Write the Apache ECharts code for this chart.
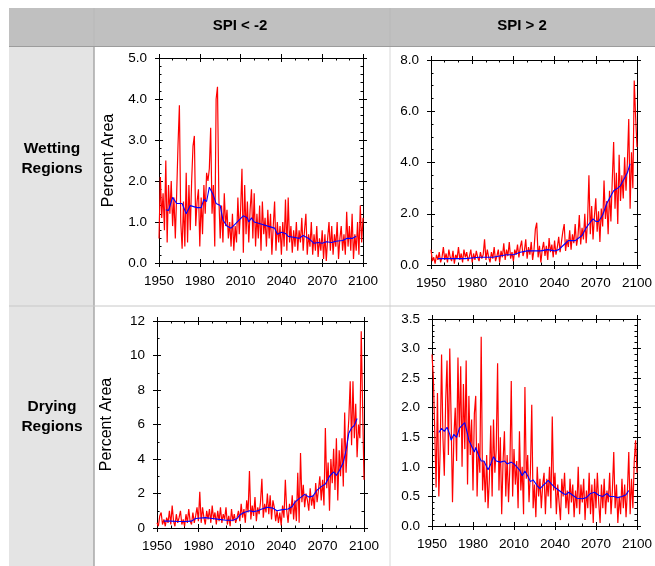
<!DOCTYPE html>
<html>
<head>
<meta charset="utf-8">
<script src="https://cdn.jsdelivr.net/npm/echarts@6/dist/echarts.min.js"></script>
<style>
  html, body { margin: 0; padding: 0; background: #fff; }
  #chart { width: 655px; height: 566px; }
</style>
</head>
<body>
<div id="chart"></div>
<script>
// x positions: one value per year
var years = [];
for (var yr = 1950; yr <= 2100; yr++) years.push(yr);

var colTitles = ['SPI < -2', 'SPI > 2'];
var rowTitles = ['Wetting\nRegions', 'Drying\nRegions'];
var xTicks = [1950, 1980, 2010, 2040, 2070, 2100];

// wetting regions, SPI < -2 (annual, red)
var wetLowRed = [
  0.6, 2.1, 1.1, 1.7, 0.8, 2.5, 0.5, 1.9, 1.2, 2.0,
  0.9, 1.6, 0.6, 1.7, 2.9, 3.85, 1.0, 0.35, 1.5, 0.4,
  2.2, 0.5, 1.9, 0.8, 2.0, 2.85, 3.1, 0.9, 1.5, 1.8,
  0.4, 1.6, 0.7, 1.9, 1.2, 2.2, 2.0, 2.3, 3.3, 1.2,
  1.9, 0.4, 4.0, 4.3, 1.6, 0.6, 1.4, 0.5, 1.7, 0.9,
  1.3, 0.6, 1.0, 0.4, 1.2, 0.3, 0.9, 0.5, 1.6, 0.7,
  1.3, 2.3, 0.25, 1.9, 0.7, 1.5, 0.5, 1.3, 1.8, 0.6,
  1.7, 0.4, 1.2, 0.6, 1.4, 0.3, 1.5, 0.7, 1.1, 0.4,
  1.3, 0.6, 1.2, 0.2, 0.9, 1.5, 0.3, 1.0, 0.5, 0.9,
  0.2, 1.0, 0.4, 1.55, 0.3, 1.6, 0.5, 0.9, 0.25, 0.8,
  0.4, 1.0, 0.3, 0.8, 0.5, 1.1, 0.3, 0.8, 1.2, 0.2,
  0.7, 0.4, 1.0, 0.2, 0.7, 0.3, 0.9, 0.15, 0.6, 0.3,
  0.8, 0.1, 0.7, 0.05, 0.6, 1.0, 0.3, 0.9, 0.2, 0.7,
  0.4, 1.0, 0.1, 0.6, 0.9, 0.3, 0.7, 0.2, 1.25, 0.4,
  0.9, 0.3, 1.2, 0.1, 0.7, 0.3, 1.0, 0.2, 1.4, 0.5, 1.1
];
var wetLowBlueYears = [1955, 1957, 1960, 1963, 1967, 1970, 1973, 1978, 1981, 1983, 1985, 1987, 1990, 1992, 1995,
  1997, 2000, 2003, 2006, 2009, 2012, 2015, 2016, 2018, 2020, 2025, 2030, 2035, 2037, 2040, 2043, 2045, 2050,
  2053, 2056, 2060, 2064, 2067, 2070, 2073, 2077, 2080, 2085, 2088, 2092, 2095];
var wetLowBlue = [1.3, 1.28, 1.6, 1.45, 1.45, 1.2, 1.4, 1.35, 1.35, 1.55, 1.5, 1.85, 1.65, 1.45, 1.4,
  1.05, 0.9, 0.85, 0.95, 1.05, 1.15, 1.1, 1.0, 1.1, 1.0, 0.95, 0.9, 0.85, 0.7, 0.75, 0.72, 0.65, 0.62,
  0.6, 0.67, 0.6, 0.48, 0.5, 0.48, 0.52, 0.5, 0.53, 0.55, 0.6, 0.6, 0.65];

// wetting regions, SPI > 2
var wetHighRed = [
  0.6, 0.15, 0.3, 0.05, 0.4, 0.2, 0.5, 0.1, 0.3, 0.7,
  0.2, 0.45, 0.1, 0.6, 0.3, 0.15, 0.55, 0.05, 0.4, 0.25,
  0.7, 0.2, 0.45, 0.1, 0.6, 0.3, 0.5, 0.15, 0.35, 0.6,
  0.1, 0.45, 0.2, 0.55, 0.3, 0.15, 0.5, 0.25, 0.4, 1.0,
  0.2, 0.6, 0.3, 0.1, 0.5, 0.25, 0.7, 0.15, 0.35, 0.6,
  0.1, 0.55, 0.3, 0.85, 0.2, 0.6, 0.35, 0.9, 0.25, 0.5,
  0.15, 0.6, 0.4, 0.8, 0.3, 0.7, 0.95, 0.35, 0.55, 1.0,
  0.25, 0.7, 0.4, 0.9, 0.2, 0.6, 1.4, 1.65, 0.3, 0.75,
  0.1, 0.6, 0.9, 0.35, 0.75, 0.2, 1.05, 0.5, 0.8, 0.3,
  0.95, 0.4, 0.7, 1.1, 0.5, 0.9, 1.3, 1.6, 0.55, 1.0,
  0.7, 1.35, 0.6, 1.2, 0.85, 1.6, 0.75, 1.1, 1.95, 0.8,
  1.45, 1.0, 2.0, 0.85, 1.7, 3.5, 1.2, 2.3, 1.0, 1.9,
  2.6, 1.3, 2.1, 0.9, 2.2, 1.5, 3.3, 1.8, 2.5, 1.2,
  2.9, 1.7, 3.3, 4.8, 2.2, 3.6, 1.6, 4.3, 2.5, 3.5,
  2.6, 4.2, 2.9, 4.0, 5.7, 2.2, 4.4, 3.0, 7.2, 5.8, 4.6
];
var wetHighBlueYears = [1955, 1965, 1975, 1985, 1995, 2000, 2005, 2010, 2015, 2020, 2025, 2030, 2035, 2040,
  2043, 2047, 2050, 2055, 2060, 2063, 2065, 2068, 2070, 2072, 2075, 2078, 2080, 2083, 2086, 2088, 2090, 2093, 2095];
var wetHighBlue = [0.25, 0.25, 0.25, 0.3, 0.3, 0.35, 0.4, 0.4, 0.5, 0.55, 0.55, 0.55, 0.6, 0.55,
  0.6, 0.8, 0.95, 0.95, 1.15, 1.45, 1.6, 1.8, 1.7, 1.7, 1.95, 2.4, 2.6, 2.9, 3.0, 3.1, 3.3, 3.6, 3.95];

// drying regions, SPI < -2
var dryLowRed = [
  0.3, 0.1, 0.7, 0.9, 0.2, 0.5, 0.1, 0.6, 0.3, 1.0,
  0.2, 1.3, 0.4, 0.1, 0.8, 0.3, 0.6, 1.0, 0.2, 0.5,
  0.1, 0.8, 0.3, 1.1, 0.4, 0.2, 0.9, 0.3, 0.7, 1.2,
  0.4, 2.1, 0.3, 1.2, 0.6, 0.2, 1.0, 0.5, 1.1, 0.3,
  1.3, 0.5, 0.9, 0.2, 1.0, 0.4, 1.2, 0.3, 0.8, 0.5,
  1.2, 0.2, 0.7, 0.1, 1.1, 0.4, 0.8, 0.3, 0.6, 1.0,
  0.4, 1.4, 0.6, 1.1, 0.3, 1.6, 0.9, 3.3, 0.5, 1.3,
  0.7, 1.8, 0.4, 1.2, 0.8, 1.5, 2.85, 0.6, 1.4, 0.9,
  2.0, 0.8, 1.9, 0.5, 1.6, 1.2, 0.4, 1.0, 0.3, 0.9,
  0.15, 1.3, 0.6, 2.8, 1.0, 0.3, 1.4, 0.8, 1.9, 0.5,
  1.6, 0.4, 3.2, 0.3, 4.35, 1.5, 2.5, 1.2, 2.0, 1.6,
  1.0, 2.3, 1.3, 1.9, 1.1, 2.6, 1.5, 2.2, 3.0, 1.6,
  2.8, 1.3, 5.8, 2.3, 3.8, 1.0, 4.0, 2.6, 4.6, 2.2,
  5.2, 1.6, 4.5, 3.0, 5.2, 2.4, 6.7, 3.2, 5.0, 6.3,
  8.5, 4.8, 8.5, 5.2, 7.2, 4.1, 6.0, 5.2, 11.4, 7.0, 2.8
];
var dryLowBlueYears = [1955, 1960, 1965, 1970, 1975, 1978, 1985, 1990, 1995, 2000, 2005, 2008, 2010, 2013,
  2017, 2020, 2023, 2026, 2030, 2034, 2037, 2040, 2045, 2048, 2050, 2053, 2057, 2060, 2063, 2066, 2069, 2072,
  2075, 2078, 2080, 2082, 2085, 2087, 2089, 2091, 2093, 2095];
var dryLowBlue = [0.4, 0.4, 0.38, 0.38, 0.4, 0.55, 0.6, 0.55, 0.5, 0.45, 0.45, 0.55, 0.75, 0.9,
  1.0, 0.95, 1.0, 1.1, 1.2, 1.15, 1.0, 1.05, 1.1, 1.25, 1.5, 1.7, 1.95, 1.8, 1.85, 2.2, 2.4, 2.55,
  3.0, 3.25, 3.05, 3.3, 3.8, 4.5, 5.5, 5.8, 5.95, 6.35];

// drying regions, SPI > 2
var dryHighRed = [
  2.9, 2.5, 1.6, 0.65, 2.25, 0.5, 1.3, 2.9, 1.5, 0.85,
  2.1, 2.8, 1.2, 3.0, 1.8, 0.4, 1.5, 2.0, 1.1, 2.85,
  1.5, 2.7, 1.0, 2.4, 1.3, 2.8, 0.7, 2.2, 1.2, 1.8,
  0.6, 1.9, 2.2, 0.5, 1.4, 0.9, 3.2, 0.6, 1.1, 0.4,
  1.2, 0.3, 0.8, 1.7, 0.5, 1.8, 0.9, 1.3, 2.75, 0.6,
  1.5, 0.2, 1.1, 1.6, 0.5, 1.2, 0.4, 1.0, 2.45, 0.5,
  1.3, 0.7, 1.1, 0.3, 1.6, 0.6, 1.0, 0.2, 2.35, 0.8,
  1.2, 0.4, 0.9, 2.05, 0.3, 0.7, 0.15, 1.0, 0.5, 0.8,
  0.3, 0.7, 0.9, 0.2, 0.8, 0.5, 1.0, 0.3, 1.85, 0.6,
  0.9, 0.2, 0.7, 0.4, 0.1, 0.8, 0.5, 0.9, 0.3, 0.6,
  0.2, 0.8, 0.4, 0.7, 0.15, 0.6, 0.3, 1.0, 0.2, 0.7,
  0.4, 0.8, 0.1, 0.6, 0.3, 0.9, 0.2, 0.7, 0.05, 0.8,
  0.3, 0.9, 0.4, 0.05, 0.7, 0.3, 0.8, 0.2, 0.6, 0.4,
  0.9, 0.2, 0.6, 1.25, 0.3, 0.7, 0.05, 0.5, 0.2, 0.8,
  0.3, 0.7, 0.15, 0.6, 1.25, 0.2, 0.8, 0.3, 1.1, 1.45, 0.9
];
var dryHighBlueYears = [1955, 1957, 1959, 1961, 1963, 1964, 1966, 1968, 1970, 1972, 1974, 1975, 1977, 1979,
  1981, 1982, 1984, 1986, 1988, 1990, 1991, 1993, 1995, 1997, 2000, 2003, 2005, 2008, 2010, 2012, 2014, 2016,
  2018, 2020, 2022, 2024, 2027, 2029, 2031, 2033, 2035, 2037, 2040, 2043, 2046, 2048, 2050, 2053, 2056, 2060,
  2063, 2066, 2069, 2072, 2075, 2078, 2080, 2083, 2086, 2089, 2092, 2094];
var dryHighBlue = [1.58, 1.65, 1.6, 1.67, 1.55, 1.45, 1.55, 1.5, 1.65, 1.7, 1.75, 1.65, 1.45, 1.35,
  1.25, 1.33, 1.2, 1.1, 1.1, 1.0, 0.95, 1.05, 1.17, 1.1, 1.08, 1.1, 1.05, 1.08, 1.05, 1.0, 0.95, 0.85,
  0.93, 0.85, 0.75, 0.78, 0.68, 0.63, 0.68, 0.72, 0.77, 0.72, 0.65, 0.6, 0.55, 0.53, 0.57, 0.52, 0.47, 0.46,
  0.48, 0.55, 0.57, 0.52, 0.5, 0.55, 0.5, 0.5, 0.48, 0.5, 0.53, 0.6];

var FONT = '"Liberation Sans", Arial, Helvetica, sans-serif';

function pairs(xs, ys) {
  return xs.map(function (x, i) { return [x, ys[i]]; });
}

/**
 * one framed panel: grid box, axes on all four sides, red annual line and blue smooth line
 */
var panels = [
  { box: { left: 159, top: 58, width: 204, height: 205 }, max: 5, step: 1, minor: 5, digits: 1, name: 'Percent Area',
    red: wetLowRed, blueX: wetLowBlueYears, blue: wetLowBlue },
  { box: { left: 431, top: 60, width: 206, height: 205 }, max: 8, step: 2, minor: 4, digits: 1, name: '',
    red: wetHighRed, blueX: wetHighBlueYears, blue: wetHighBlue },
  { box: { left: 157, top: 321, width: 207, height: 207 }, max: 12, step: 2, minor: 2, digits: 0, name: 'Percent Area',
    red: dryLowRed, blueX: dryLowBlueYears, blue: dryLowBlue },
  { box: { left: 432, top: 319, width: 206, height: 207 }, max: 3.5, step: 0.5, minor: 5, digits: 1, name: '',
    red: dryHighRed, blueX: dryHighBlueYears, blue: dryHighBlue }
];

var grids = [], xAxes = [], yAxes = [], series = [];

function axisBase(gi, pos, inside, labels, minor) {
  return {
    gridIndex: gi,
    position: pos,
    type: 'value',
    axisLine: { show: true, onZero: false, lineStyle: { color: '#000', width: 1 } },
    axisTick: { show: true, inside: inside, length: 4, lineStyle: { color: '#000', width: 1 } },
    minorTick: { show: !!minor, splitNumber: minor || 5, length: 2.5, lineStyle: { color: '#000', width: 1 } },
    splitLine: { show: false },
    axisLabel: { show: labels, fontSize: 13.5, fontFamily: FONT, color: '#000' }
  };
}

panels.forEach(function (p, gi) {
  grids.push({ left: p.box.left, top: p.box.top, width: p.box.width, height: p.box.height, containLabel: false });

  ['bottom', 'top'].forEach(function (pos) {
    [false, true].forEach(function (inside) {
      var ax = axisBase(gi, pos, inside, pos === 'bottom' && !inside, inside ? 3 : 0);
      ax.min = xTicks[0]; ax.max = xTicks[xTicks.length - 1]; ax.interval = 30;
      ax.axisLabel.margin = 11;
      ax.axisLabel.formatter = function (v) { return String(v); };
      xAxes.push(ax);
    });
  });

  ['left', 'right'].forEach(function (pos) {
    [false, true].forEach(function (inside) {
      var ax = axisBase(gi, pos, inside, pos === 'left' && !inside, inside ? p.minor : 0);
      ax.min = 0; ax.max = p.max; ax.interval = p.step;
      ax.axisLabel.margin = 12;
      ax.axisLabel.formatter = (function (d) { return function (v) { return v.toFixed(d); }; })(p.digits);
      if (pos === 'left' && !inside && p.name) {
        ax.name = p.name;
        ax.nameLocation = 'middle';
        ax.nameGap = 42;
        ax.nameTextStyle = { fontSize: 16, fontFamily: FONT, color: '#000' };
      }
      yAxes.push(ax);
    });
  });

  series.push({
    type: 'line', xAxisIndex: gi * 4, yAxisIndex: gi * 4, showSymbol: false, symbol: 'none',
    data: pairs(years, p.red), lineStyle: { color: '#ff0000', width: 1.2 }, animation: false, z: 2
  });
  series.push({
    type: 'line', xAxisIndex: gi * 4, yAxisIndex: gi * 4, showSymbol: false, symbol: 'none',
    data: pairs(p.blueX, p.blue), lineStyle: { color: '#0000ff', width: 1.1 }, animation: false, z: 3
  });
});

// table background: header band, row title column, cell dividers
var graphics = [
  { type: 'rect', shape: { x: 9, y: 8, width: 646, height: 38 }, style: { fill: '#c0c0c0' }, z: -10 },
  { type: 'rect', shape: { x: 9, y: 46, width: 85, height: 520 }, style: { fill: '#e4e4e4' }, z: -10 },
  { type: 'line', shape: { x1: 9, y1: 46.5, x2: 655, y2: 46.5 }, style: { stroke: '#9c9c9c', lineWidth: 1 }, z: -5 },
  { type: 'line', shape: { x1: 94, y1: 8, x2: 94, y2: 46 }, style: { stroke: '#b8b8b8', lineWidth: 1 }, z: -5 },
  { type: 'line', shape: { x1: 94, y1: 47, x2: 94, y2: 566 }, style: { stroke: '#a8a8a8', lineWidth: 1.5 }, z: -5 },
  { type: 'line', shape: { x1: 390, y1: 8, x2: 390, y2: 46 }, style: { stroke: '#b8b8b8', lineWidth: 1 }, z: -5 },
  { type: 'line', shape: { x1: 390, y1: 47, x2: 390, y2: 566 }, style: { stroke: '#d8d8d8', lineWidth: 1 }, z: -5 },
  { type: 'line', shape: { x1: 9, y1: 306, x2: 655, y2: 306 }, style: { stroke: '#c8c8c8', lineWidth: 1 }, z: -5 }
];
var colCenters = [240, 522];
colTitles.forEach(function (t, i) {
  graphics.push({ type: 'text', x: colCenters[i], y: 26, z: 5,
    style: { text: t, font: 'bold 15px ' + FONT, fill: '#000', textAlign: 'center', textVerticalAlign: 'middle' } });
});
var rowCenters = [159, 417];
rowTitles.forEach(function (t, i) {
  graphics.push({ type: 'text', x: 52, y: rowCenters[i], z: 5,
    style: { text: t, font: 'bold 15.5px ' + FONT, lineHeight: 20, fill: '#000', textAlign: 'center', textVerticalAlign: 'middle' } });
});

var chart = echarts.init(document.getElementById('chart'), null, { renderer: 'canvas' });
chart.setOption({
  backgroundColor: '#ffffff',
  animation: false,
  grid: grids,
  xAxis: xAxes,
  yAxis: yAxes,
  series: series,
  graphic: graphics
});
</script>
</body>
</html>
